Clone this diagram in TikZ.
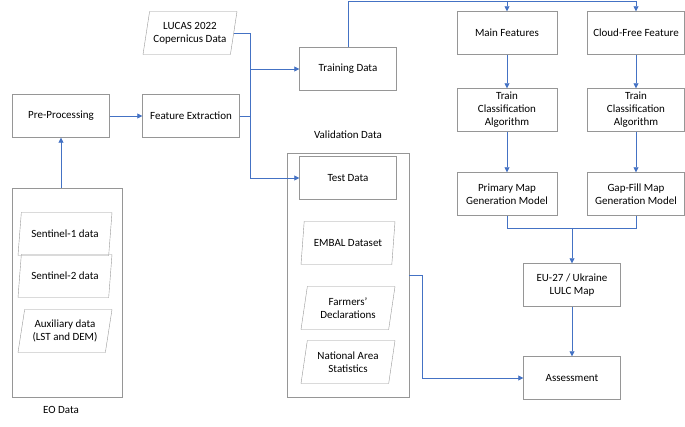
\documentclass[tikz,border=0pt]{standalone}
\usepackage{fontspec}
\setmainfont{Carlito}
\usetikzlibrary{shapes.geometric,arrows.meta}
\definecolor{flowblue}{RGB}{68,114,196}
\definecolor{boxgray}{RGB}{150,150,150}
\tikzset{
  box/.style={draw=boxgray,minimum width=97pt,minimum height=43pt,align=center,font=\fontsize{11}{13}\selectfont},
  data/.style={box,trapezium,trapezium left angle=77,trapezium right angle=103,minimum width=94pt,trapezium stretches body},
  flow/.style={draw=flowblue,thick,-{Triangle[length=5pt,width=5pt]}},
  line/.style={draw=flowblue,thick}
}
\begin{document}
\begin{tikzpicture}[x=1pt,y=-1pt]
\useasboundingbox (0,0) rectangle (685,427);
% containers
\draw[boxgray] (12,188) rectangle (122,397);
\draw[boxgray] (287,153) rectangle (409,397);
\node[font=\fontsize{11}{13}\selectfont] (eo) at (61,410) {EO Data};
\node[font=\fontsize{11}{13}\selectfont] (val) at (348,135) {Validation Data};
\coordinate (eotop) at (61,188);
\coordinate (valright) at (409,275);
% left column
\node[box] (pre) at (61,116) {Pre-Processing};
\node[box] (fe) at (191,116) {Feature Extraction};
\node[data] (lucas) at (190,33) {LUCAS 2022\\Copernicus Data};
\node[data] (s1) at (65,234) {Sentinel-1 data};
\node[data] (s2) at (65,276) {Sentinel-2 data};
\node[data] (aux) at (65,331) {Auxiliary data\\(LST and DEM)};
% middle column
\node[box] (train) at (348,69) {Training Data};
\node[box] (test) at (348,178) {Test Data};
\node[data] (embal) at (348,243) {EMBAL Dataset};
\node[data] (farm) at (348,308) {Farmers'\\Declarations};
\node[data] (nat) at (348,362) {National Area\\Statistics};
% right columns
\node[box,minimum width=100pt] (mainf) at (507,33) {Main Features};
\node[box] (cloud) at (636,33) {Cloud-Free Feature};
\node[box,minimum width=100pt] (alg1) at (507,110) {Train\\Classification\\Algorithm};
\node[box] (alg2) at (636,110) {Train\\Classification\\Algorithm};
\node[box,minimum width=100pt] (prim) at (507,194) {Primary Map\\Generation Model};
\node[box] (gap) at (636,194) {Gap-Fill Map\\Generation Model};
\node[box] (lulc) at (572,285) {EU-27 / Ukraine\\LULC Map};
\node[box] (assess) at (572,378) {Assessment};
% connectors
\draw[flow] (eotop) -- (pre);
\draw[flow] (pre) -- (fe);
\draw[flow] (fe.east) -| (250,69) -- (train);
\draw[flow] (fe.east) -| (250,178) -- (test);
\draw[line] (lucas.east) -| (250,69);
\draw[line] (train.north) |- (636,1);
\draw[flow] (507,1) -- (mainf);
\draw[flow] (636,1) -- (cloud);
\draw[flow] (mainf) -- (alg1);
\draw[flow] (cloud) -- (alg2);
\draw[flow] (alg1) -- (prim);
\draw[flow] (alg2) -- (gap);
\draw[line] (prim.south) |- (572,228);
\draw[line] (gap.south) |- (572,228);
\draw[flow] (572,228) -- (lulc);
\draw[flow] (lulc) -- (assess);
\draw[flow] (valright) -| (422,378) -- (assess);
\end{tikzpicture}
\end{document}
